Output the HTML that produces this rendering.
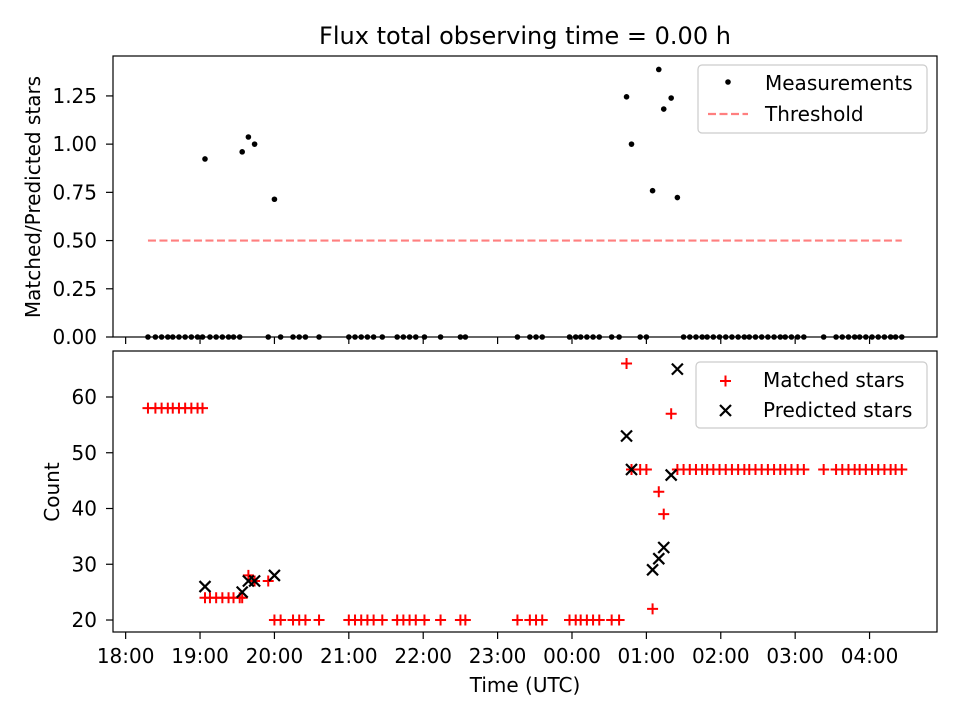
<!DOCTYPE html>
<html><head><meta charset="utf-8"><style>
body{margin:0;background:#fff;font-family:"Liberation Sans","DejaVu Sans",sans-serif}
svg text{font-family:"DejaVu Sans","Liberation Sans",sans-serif;fill:#000}
</style></head><body>
<svg id="c" width="960" height="720" xmlns="http://www.w3.org/2000/svg"></svg>
<script>
// minutes after 18:00
const times=[18,24,29,34,38,43,48,53,58,62,64,68,73,78,83,87,92,94,99,104,115,120,125,135,140,145,156,180,185,190,195,200,207,219,224,229,234,241,254,270,274,316,326,331,336,358,363,367,372,377,382,392,398,404,408,415,420,425,430,434,440,445,450,455,460,465,469,474,479,484,489,494,499,503,508,513,518,523,528,532,537,542,547,563,573,578,583,588,592,597,602,607,612,617,621,626];
const matched=[58,58,58,58,58,58,58,58,58,58,24,24,24,24,24,24,24,24,28,27,27,20,20,20,20,20,20,20,20,20,20,20,20,20,20,20,20,20,20,20,20,20,20,20,20,20,20,20,20,20,20,20,20,66,47,47,47,22,43,39,57,47,47,47,47,47,47,47,47,47,47,47,47,47,47,47,47,47,47,47,47,47,47,47,47,47,47,47,47,47,47,47,47,47,47,47];
// predicted (keyed by time in minutes)
const predicted={64:26,94:25,99:27,104:27,120:28,404:53,408:47,425:29,430:31,434:33,440:46,445:65};
const threshold=0.5;
const xTickLabels=["18:00","19:00","20:00","21:00","22:00","23:00","00:00","01:00","02:00","03:00","04:00"];
const topTicks=[0,0.25,0.5,0.75,1.0,1.25];
const botTicks=[20,30,40,50,60];

const NS="http://www.w3.org/2000/svg",svg=document.getElementById('c');
function el(t,a,p){const e=document.createElementNS(NS,t);for(const k in a)e.setAttribute(k,a[k]);(p||svg).appendChild(e);return e;}
const L=113,R=937,xmin=-10.2,xmax=654.4,FS=20;
const X=m=>L+(m-xmin)/(xmax-xmin)*(R-L);
const T={t:56,b:337,min:0,max:1.457},B={t:351,b:632,min:17.85,max:68.25};
const Y=(ax,v)=>ax.b-(v-ax.min)/(ax.max-ax.min)*(ax.b-ax.t);
const ratio=times.map((t,i)=>predicted[t]?matched[i]/predicted[t]:0);

let t=el('text',{x:525,y:44,'font-size':24,'text-anchor':'middle'});t.textContent="Flux total observing time = 0.00 h";


function axes(ax,ticks,fmt,name,labels){
  const g=el('g',{});
  xTickLabels.forEach((lab,i)=>{const x=X(i*60);el('line',{x1:x,x2:x,y1:ax.b,y2:ax.b+7,stroke:'#000','stroke-width':1.2},g);
    if(labels){const tt=el('text',{x:x,y:ax.b+31,'font-size':FS,'text-anchor':'middle'},g);tt.textContent=lab;}});
  ticks.forEach(v=>{const y=Y(ax,v);el('line',{x1:L-7,x2:L,y1:y,y2:y,stroke:'#000','stroke-width':1.2},g);
    const tt=el('text',{x:L-16,y:y+7,'font-size':FS,'text-anchor':'end'},g);tt.textContent=fmt(v);});
  return g;
}
axes(T,topTicks,v=>v.toFixed(2),'top-axes',false);
axes(B,botTicks,v=>String(v),'bottom-axes',true);

const th=el('line',{x1:X(times[0]),x2:X(times[times.length-1]),y1:Y(T,threshold),y2:Y(T,threshold),stroke:'#ff7f7f','stroke-width':2.2,'stroke-dasharray':'8,3.5'});

times.forEach((tm,i)=>{const c=el('circle',{cx:X(tm),cy:Y(T,ratio[i]),r:2.8,fill:'#000'});
  });
times.forEach((tm,i)=>{const x=X(tm),y=Y(B,matched[i]);const p=el('path',{d:`M${x-5.5},${y}H${x+5.5}M${x},${y-5.5}V${y+5.5}`,stroke:'#f00','stroke-width':2});
  });
times.forEach(tm=>{if(!predicted[tm])return;const x=X(tm),y=Y(B,predicted[tm]),d=5.5;
  const p=el('path',{d:`M${x-d},${y-d}L${x+d},${y+d}M${x-d},${y+d}L${x+d},${y-d}`,stroke:'#000','stroke-width':2.2});
  });

[T,B].forEach((ax,i)=>{const r=el('rect',{x:L,y:ax.t,width:R-L,height:ax.b-ax.t,fill:'none',stroke:'#000','stroke-width':1.2});
  });

t=el('text',{x:0,y:0,'font-size':FS,'text-anchor':'middle',transform:`translate(40,197) rotate(-90)`});t.textContent="Matched/Predicted stars";

t=el('text',{x:0,y:0,'font-size':FS,'text-anchor':'middle',transform:`translate(59,492) rotate(-90)`});t.textContent="Count";

t=el('text',{x:525,y:692,'font-size':FS,'text-anchor':'middle'});t.textContent="Time (UTC)";


function legend(x,y,w,h,name){const g=el('g',{});
  el('rect',{x:x,y:y,width:w,height:h,rx:4,fill:'#fff','fill-opacity':0.8,stroke:'#ccc','stroke-width':1.2},g);return g;}
let lg=legend(698,65,229,68,'top-legend');
el('circle',{cx:728,cy:82,r:2.8,fill:'#000'},lg);
t=el('text',{x:765,y:90,'font-size':FS},lg);t.textContent="Measurements";
el('line',{x1:708,x2:748,y1:114,y2:114,stroke:'#ff7f7f','stroke-width':2.2,'stroke-dasharray':'8,3.5'},lg);
t=el('text',{x:765,y:121,'font-size':FS},lg);t.textContent="Threshold";
lg=legend(696,362,231,66,'bottom-legend');
el('path',{d:'M720,381H731M725.5,375.5V386.5',stroke:'#f00','stroke-width':2},lg);
t=el('text',{x:763,y:387,'font-size':FS},lg);t.textContent="Matched stars";
el('path',{d:'M720,405L731,416M720,416L731,405',stroke:'#000','stroke-width':2.2},lg);
t=el('text',{x:763,y:417,'font-size':FS},lg);t.textContent="Predicted stars";
</script>
</body></html>
